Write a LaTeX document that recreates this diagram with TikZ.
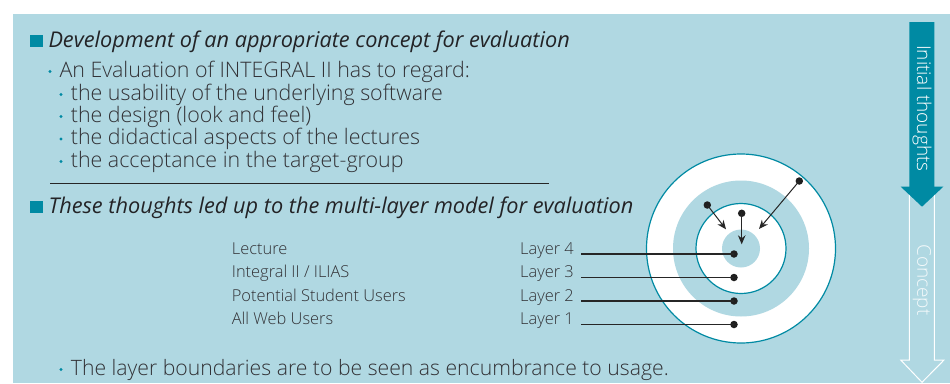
\documentclass[tikz,border=0pt]{standalone}
\usepackage{fontspec}
\setmainfont{Open Sans}[UprightFont={* Light}, ItalicFont={* Italic}]
\usetikzlibrary{arrows.meta}
\definecolor{bgblue}{RGB}{176,216,226}
\definecolor{tealc}{RGB}{0,138,163}
\definecolor{txtc}{RGB}{50,50,54}
\definecolor{headc}{RGB}{35,35,38}
\begin{document}
\begin{tikzpicture}[x=1pt,y=-1pt,
  body/.style={anchor=base west, inner sep=0pt, font=\fontsize{21.4}{24}\selectfont, text=txtc},
  head/.style={anchor=base west, inner sep=0pt, font=\fontsize{21.7}{24}\selectfont\itshape, text=headc},
  lbl/.style={anchor=base west, inner sep=0pt, font=\fontsize{16.4}{19}\selectfont, text=txtc},
  bul/.style={circle, fill=tealc, inner sep=0pt, minimum size=3.2pt},
  sqbul/.style={fill=tealc, inner sep=0pt, minimum width=13pt, minimum height=12.4pt},
  dotn/.style={circle, fill=black!88, inner sep=0pt, minimum size=7.5pt},
  lline/.style={draw=black!85, line width=1.2pt},
  parr/.style={draw=black!85, line width=1pt, -{Stealth[length=9pt,width=7.5pt]}},
  ring/.style={draw=tealc, line width=1.2pt, fill=white},
  sidetxt/.style={rotate=-90, inner sep=0pt, text=white, font=\fontsize{19}{22}\selectfont}
]
\useasboundingbox (0,0) rectangle (950,383);
\fill[white] (0,0) rectangle (950,383);
\fill[bgblue] (13,14) rectangle (950,383);

% --- top text block
\node[sqbul, anchor=north west] (sq1) at (29.3,34.3) {};
\node[head] (h1) at (48.3,47) {Development of an appropriate concept for evaluation};
\node[bul] (b0) at (50,71.5) {};
\node[body] (t0) at (59.3,77) {An Evaluation of INTEGRAL II has to regard:};
\node[bul] (b1) at (61,94.5) {};
\node[body] (t1) at (70.7,100) {the usability of the underlying software};
\node[bul] (b2) at (61,116.5) {};
\node[body] (t2) at (70.7,122) {the design (look and feel)};
\node[bul] (b3) at (61,139) {};
\node[body] (t3) at (70.7,144.5) {the didactical aspects of the lectures};
\node[bul] (b4) at (61,161.5) {};
\node[body] (t4) at (70.7,167) {the acceptance in the target-group};
\coordinate (hl1) at (50,183.3);
\coordinate (hl2) at (549,183.3);
\draw[black!85, line width=1pt] (hl1) -- (hl2);

\node[sqbul, anchor=north west] (sq2) at (29.3,200.6) {};
\node[head] (h2) at (48.3,213.3) {These thoughts led up to the multi-layer model for evaluation};

% --- target
\coordinate (c) at (741,248.5);
\draw[ring] (c) circle[radius=94.5];
\fill[bgblue] (c) circle[radius=68];
\draw[ring] (c) circle[radius=45];
\fill[bgblue] (c) circle[radius=19];

% --- layer labels
\node[lbl] (n4) at (231.7,254) {Lecture};
\node[lbl] (n3) at (231.7,277.5) {Integral II / ILIAS};
\node[lbl] (n2) at (231.7,301) {Potential Student Users};
\node[lbl] (n1) at (231.7,324.5) {All Web Users};
\node[lbl] (L4) at (520,254) {Layer 4};
\node[lbl] (L3) at (520,277.5) {Layer 3};
\node[lbl] (L2) at (520,301) {Layer 2};
\node[lbl] (L1) at (520,324.5) {Layer 1};
\coordinate (s4) at (581,254);
\coordinate (s3) at (581,277.5);
\coordinate (s2) at (581,301);
\coordinate (s1) at (581,324.5);
\node[dotn] (d4) at (734,254) {};
\node[dotn] (d3) at (734,277.5) {};
\node[dotn] (d2) at (734,301) {};
\node[dotn] (d1) at (734,324.5) {};
\draw[lline] (s4) -- (d4.center);
\draw[lline] (s3) -- (d3.center);
\draw[lline] (s2) -- (d2.center);
\draw[lline] (s1) -- (d1.center);

% --- pointing arrows
\node[dotn] (p1) at (707.3,205) {};
\node[dotn] (p2) at (741.7,213.3) {};
\node[dotn] (p3) at (799.3,181) {};
\coordinate (q1) at (726,229.3);
\coordinate (q2) at (741.7,244.3);
\coordinate (q3) at (759,229);
\draw[parr] (p1.center) -- (q1);
\draw[parr] (p2.center) -- (q2);
\draw[parr] (p3.center) -- (q3);

% --- bottom line
\node[bul] (b5) at (61,369.5) {};
\node[body, font=\fontsize{21.2}{24}\selectfont] (t5) at (70.7,375) {The layer boundaries are to be seen as encumbrance to usage.};

% --- side arrows
\draw[white, line width=1pt, line join=miter]
  (909.3,186.7) -- (909.3,360) -- (900.7,360) -- (922,382.3) -- (944,360) -- (934.3,360) -- (934.3,186.7);
\fill[tealc] (909.3,22) -- (934.3,22) -- (934.3,186.7) -- (943.3,186.7) -- (922,206.7)
  -- (900.7,186.7) -- (909.3,186.7) -- cycle;
\node[sidetxt] (it) at (922,108.3) {Initial thoughts};
\node[sidetxt, text opacity=0.85] (co) at (922,280) {Concept};
\end{tikzpicture}
\end{document}
